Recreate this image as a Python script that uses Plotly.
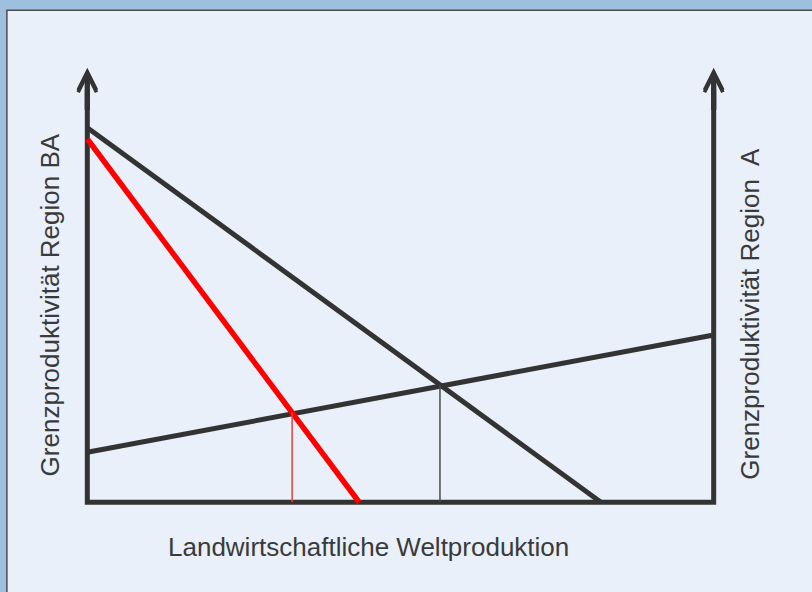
import plotly.graph_objects as go

# axes of the diagram (model units)
x_max = 10
y_max = 10

# marginal product curves
mp_ba_x = [0, 8.2]
mp_ba_y = [8.62, 0]
mp_ba_new_x = [0, 4.34]
mp_ba_new_y = [8.36, 0]
mp_a_x = [0, 10]
mp_a_y = [1.15, 3.85]

# equilibrium drop lines
eq_new_x = [3.27, 3.27]
eq_new_y = [0, 2.07]
eq_old_x = [5.63, 5.63]
eq_old_y = [0, 2.68]

label_left = "Grenzproduktivität Region BA"
label_right = "Grenzproduktivität Region  A"
label_bottom = "Landwirtschaftliche Weltproduktion"

W, H = 812, 592
L, R, T, B = 55.65, 66.65, 46.3, 68.3
DARK = "#333333"
FONT = dict(family="Liberation Sans, Arial", size=26, color="#3a3a3a")


def px(x):
    return (x - L) / (W - L - R)


def py(y):
    return (H - B - y) / (H - T - B)


fig = go.Figure()

# frame: two vertical axes and the base line
fig.add_trace(go.Scatter(x=[0, 0, x_max, x_max], y=[y_max * 0.95, 0, 0, y_max * 0.95],
                         mode="lines", line=dict(color=DARK, width=5), hoverinfo="skip"))

fig.add_trace(go.Scatter(x=mp_ba_x, y=mp_ba_y, mode="lines",
                         line=dict(color=DARK, width=5), hoverinfo="skip"))
fig.add_trace(go.Scatter(x=mp_a_x, y=mp_a_y, mode="lines",
                         line=dict(color=DARK, width=5), hoverinfo="skip"))
fig.add_trace(go.Scatter(x=mp_ba_new_x, y=mp_ba_new_y, mode="lines",
                         line=dict(color="#ff0000", width=5.5), hoverinfo="skip"))
fig.add_trace(go.Scatter(x=eq_new_x, y=eq_new_y, mode="lines",
                         line=dict(color="#ee3c3c", width=1.5), hoverinfo="skip"))
fig.add_trace(go.Scatter(x=eq_old_x, y=eq_old_y, mode="lines",
                         line=dict(color="#4a4a4a", width=1.5), hoverinfo="skip"))

# arrow heads on the vertical axes (two stacked copies to get thicker arms)
for xa in [0, x_max]:
    for tip in [y_max, y_max - 0.05]:
        fig.add_annotation(x=xa, y=tip, ax=xa, ay=y_max * 0.9, xref="x", yref="y",
                           axref="x", ayref="y", text="", showarrow=True,
                           arrowhead=5, arrowsize=0.72, arrowwidth=5, arrowcolor=DARK)

fig.add_annotation(x=px(50), y=py(305), xref="paper", yref="paper", text=label_left,
                   textangle=-90, showarrow=False, font=FONT,
                   xanchor="center", yanchor="middle")
fig.add_annotation(x=px(750), y=py(314), xref="paper", yref="paper", text=label_right,
                   textangle=-90, showarrow=False, font=FONT,
                   xanchor="center", yanchor="middle")
fig.add_annotation(x=px(368), y=py(547), xref="paper", yref="paper", text=label_bottom,
                   showarrow=False, font=FONT, xanchor="center", yanchor="middle")

# inner light panel over the blue page
fig.add_shape(type="rect", xref="paper", yref="paper", layer="below",
              x0=px(6.5), x1=px(W + 20), y0=py(H + 20), y1=py(10.5),
              fillcolor="#e9f0f9", line=dict(color="#4d4d4d", width=1.5))

fig.update_layout(
    width=W, height=H,
    margin=dict(l=L, r=R, t=T, b=B, pad=0),
    paper_bgcolor="#9ebfe0",
    plot_bgcolor="rgba(0,0,0,0)",
    showlegend=False,
    xaxis=dict(range=[-0.5, x_max + 0.5], visible=False, fixedrange=True),
    yaxis=dict(range=[-0.5, y_max + 0.5], visible=False, fixedrange=True),
)

fig.write_html("out.html", config=dict(displayModeBar=False),
               post_script="document.body.style.margin='0';")
